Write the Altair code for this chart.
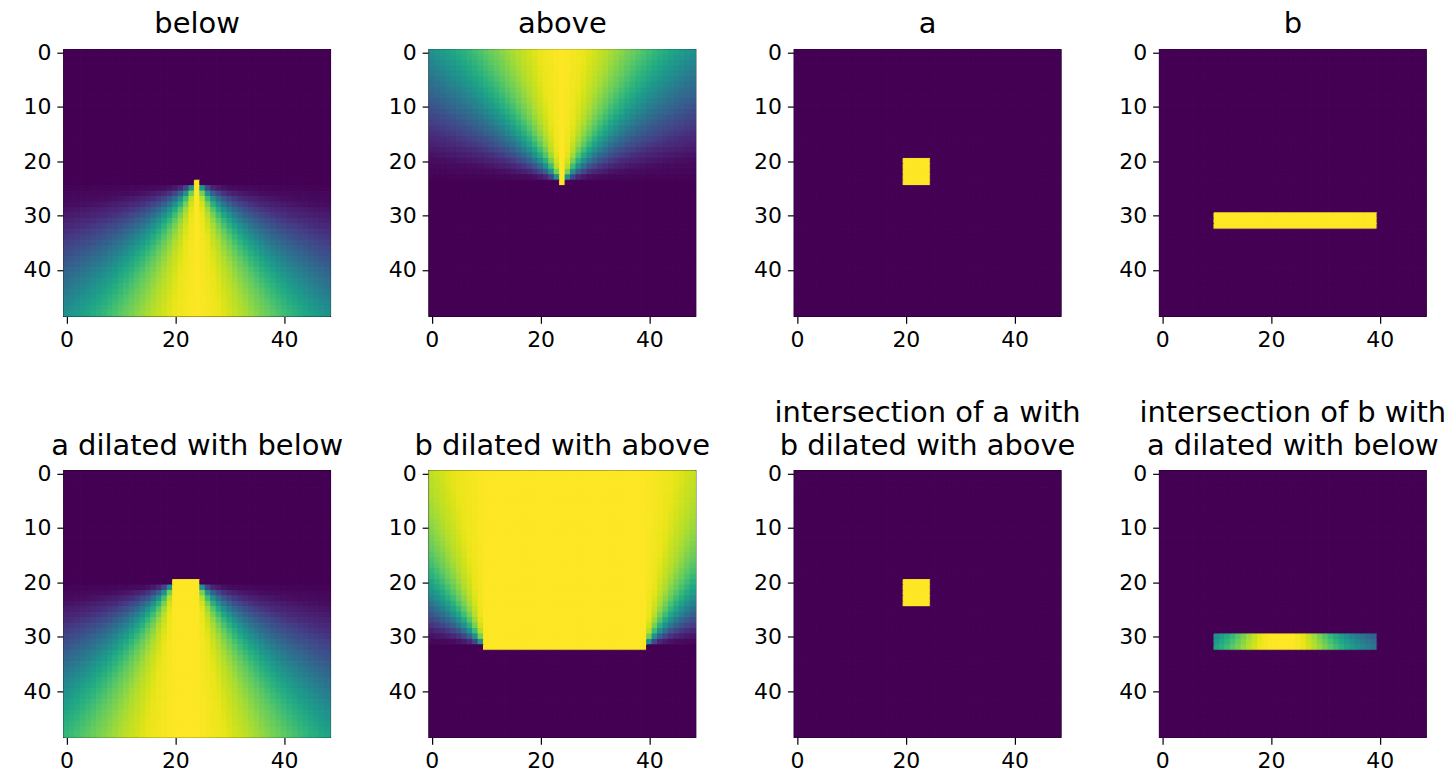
import numpy as np
import pandas as pd
import altair as alt

# ---- values ----
GRID_SIZE = 49            # image is 49 x 49 cells
APEX = 24                 # apex row/col of the "below"/"above" cones
# membership of a cell vs. its angle from the vertical (degrees), read off the cones
ANGLE_DEG = [0, 10, 20, 30, 40, 50, 60, 70, 80, 90]
MEMBERSHIP = [1.0, 0.97, 0.88, 0.75, 0.59, 0.41, 0.25, 0.12, 0.03, 0.0]
# object "a": square, object "b": horizontal bar (inclusive row/col ranges)
A_ROWS = [20, 24]
A_COLS = [20, 24]
B_ROWS = [30, 32]
B_COLS = [10, 39]
TITLES = [
    "below", "above", "a", "b",
    "a dilated with below", "b dilated with above",
    ["intersection of a with", "b dilated with above"],
    ["intersection of b with", "a dilated with below"],
]
X_TICKS = [0, 20, 40]
Y_TICKS = [0, 10, 20, 30, 40]

rr, cc = np.mgrid[0:GRID_SIZE, 0:GRID_SIZE]


def member(dr, dc):
    """membership of offset (dr, dc) in the 'below' relation (dr>0 is below)."""
    ang = np.degrees(np.arctan2(np.abs(dc), np.where(dr > 0, dr, 1)))
    v = np.interp(ang, ANGLE_DEG, MEMBERSHIP)
    v = np.where(dr > 0, v, 0.0)
    v = np.where((dr == 0) & (dc == 0), 1.0, v)
    return v


def box(rows, cols):
    m = np.zeros((GRID_SIZE, GRID_SIZE))
    m[rows[0]:rows[1] + 1, cols[0]:cols[1] + 1] = 1.0
    return m


def dilate(obj, sign):
    out = np.zeros((GRID_SIZE, GRID_SIZE))
    for i, j in zip(*np.nonzero(obj)):
        out = np.maximum(out, member(sign * (rr - i), cc - j))
    return out


below = member(rr - APEX, cc - APEX)
above = member(APEX - rr, cc - APEX)
a = box(A_ROWS, A_COLS)
b = box(B_ROWS, B_COLS)
a_below = dilate(a, 1)
b_above = dilate(b, -1)
inter_a = np.minimum(a, b_above)
inter_b = np.minimum(b, a_below)

images = [below, above, a, b, a_below, b_above, inter_a, inter_b]

FONT = "DejaVu Sans"
W = 267


def panel(img, title):
    df = pd.DataFrame({
        "col": cc.ravel(), "row": rr.ravel(), "v": img.ravel()
    })
    lo, hi = float(img.min()), float(img.max())
    if hi <= lo:
        hi = lo + 1
    cscale = alt.Scale(scheme="viridis", domain=[lo, hi])
    xs = alt.Scale(domain=[-0.5, GRID_SIZE - 0.5], nice=False, zero=False)
    ys = alt.Scale(domain=[-0.5, GRID_SIZE - 0.5], nice=False, zero=False, reverse=True)
    multi = isinstance(title, list)
    tparams = dict(frame="group", baseline="bottom", offset=-27)
    if multi:
        tparams["lineHeight"] = 33
    return (
        alt.Chart(df)
        .transform_calculate(x0="datum.col - 0.5", x1="datum.col + 0.5",
                             y0="datum.row - 0.5", y1="datum.row + 0.5")
        .mark_rect(strokeWidth=1.0)
        .encode(
            x=alt.X("x0:Q", scale=xs, title=None,
                    axis=alt.Axis(values=X_TICKS, labelFlush=False)),
            x2="x1:Q",
            y=alt.Y("y0:Q", scale=ys, title=None,
                    axis=alt.Axis(values=Y_TICKS, labelFlush=False)),
            y2="y1:Q",
            color=alt.Color("v:Q", scale=cscale, legend=None),
            stroke=alt.Stroke("v:Q", scale=cscale, legend=None),
        )
        .properties(
            width=W, height=W,
            title=alt.TitleParams(title, **tparams),
        )
    )


charts = [panel(img, t) for img, t in zip(images, TITLES)]
chart = (
    alt.concat(*charts, columns=4, spacing={"row": 155, "column": 99},
               bounds="flush")
    .properties(padding={"left": 14, "top": 0, "right": 0, "bottom": 0})
    .configure_view(stroke="black", strokeWidth=1.5)
    .configure_axis(
        domain=False, grid=False, ticks=True, tickColor="black", tickSize=7,
        tickWidth=1.2, labelPadding=6, labelFont=FONT, labelFontSize=22,
        labelColor="black",
    )
    .configure_title(font=FONT, fontSize=29, fontWeight="normal", color="black",
                     anchor="middle")
)

chart.save("out.html", embed_options={"renderer": "svg", "actions": False})
